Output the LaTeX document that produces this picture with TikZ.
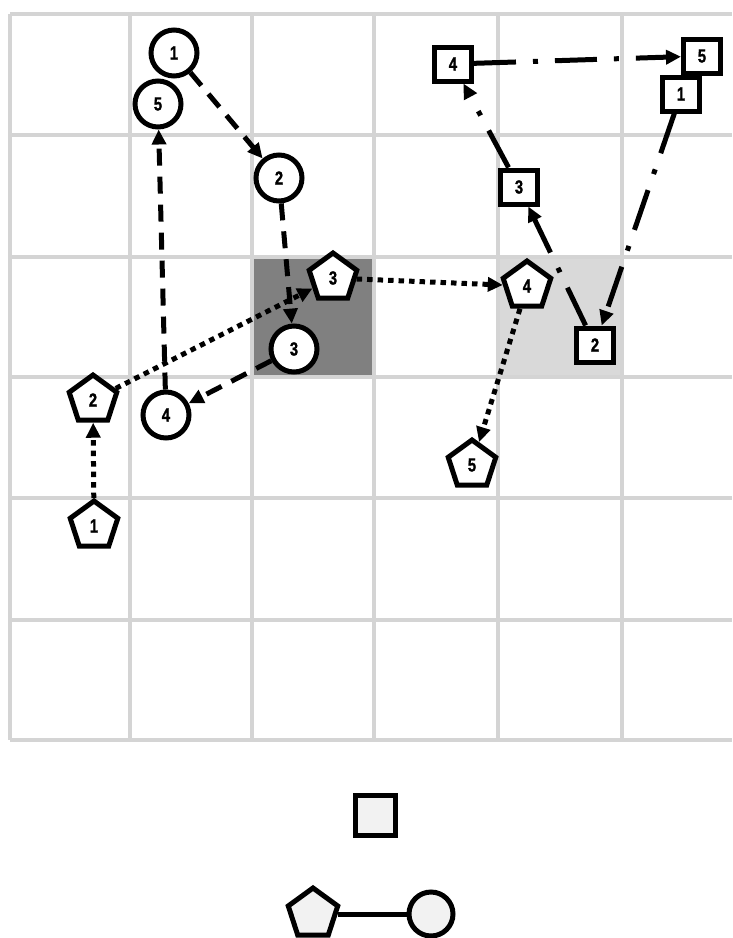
\documentclass[tikz,border=0pt]{standalone}
\usepackage{fontspec}
\setmainfont{Liberation Sans}[FakeStretch=0.78, BoldFeatures={FakeBold=1.2}]
\usetikzlibrary{arrows.meta,shapes.geometric}
\definecolor{gridc}{HTML}{D4D4D4}
\definecolor{darkcell}{HTML}{808080}
\definecolor{lightcell}{HTML}{D9D9D9}
\definecolor{legfill}{HTML}{F2F2F2}
\tikzset{
  lbl/.style={font=\bfseries\fontsize{19}{19}\selectfont},
  circ/.style={circle, draw, line width=5pt, fill=white, minimum size=46pt, inner sep=0pt, lbl},
  pent/.style={regular polygon, regular polygon sides=5, draw, line width=5pt, fill=white, minimum size=50pt, inner sep=0pt, lbl},
  sq/.style={rectangle, draw, line width=5pt, fill=white, minimum width=37pt, minimum height=34pt, inner sep=0pt, lbl},
  tip/.style={-{Triangle[length=15pt,width=14pt]}},
  cedge/.style={line width=5pt, dash pattern=on 17pt off 11pt, tip},
  pedge/.style={line width=5pt, dash pattern=on 5.5pt off 5pt, tip},
  sedge/.style={line width=5pt, dash pattern=on 42pt off 17pt on 5pt off 17pt, tip},
  gline/.style={draw=gridc, line width=3.2pt}
}
\begin{document}
\begin{tikzpicture}[x=1pt,y=-1pt]
\useasboundingbox (0,0) rectangle (732,938);
% highlighted cells
\fill[darkcell] (252,257) rectangle (374,377);
\fill[lightcell] (498,257) rectangle (622,377);
% grid
\foreach \x in {10,130,252,374,498,622} \draw[gline] (\x,14) -- (\x,740);
\foreach \y in {14,135,257,377,498,620,740} \draw[gline] (10,\y) -- (732,\y);
% circles
\node[circ] (c1) at (174,53) {1};
\node[circ] (c5) at (158,104) {5};
\node[circ] (c2) at (279,178) {2};
\node[circ] (c3) at (294,349) {3};
\node[circ] (c4) at (166,415) {4};
% pentagons
\node[pent] (p1) at (94,526) {1};
\node[pent] (p2) at (93,400) {2};
\node[pent] (p3) at (333,278) {3};
\node[pent] (p4) at (527,286) {4};
\node[pent] (p5) at (472,465) {5};
% squares
\node[sq] (s4) at (453,64) {4};
\node[sq] (s5) at (702,56) {5};
\node[sq] (s1) at (681,94) {1};
\node[sq] (s3) at (519,187) {3};
\node[sq] (s2) at (595,345) {2};
% edges
\draw[cedge] (c1) -- (c2);
\draw[cedge] (c2) -- (c3);
\draw[cedge] (c3) -- (c4);
\draw[cedge] (c4) -- (c5);
\draw[pedge] (p1) -- (p2);
\draw[pedge] (p2) -- (p3);
\draw[pedge] (p3) -- (p4);
\draw[pedge] (p4) -- (p5);
\draw[sedge] (s1) -- (s2);
\draw[sedge] (s2) -- (s3);
\draw[sedge] (s3) -- (s4);
\draw[sedge] (s4) -- (s5);
% legend
\node[sq, fill=legfill, minimum width=40pt, minimum height=40pt] (lsq) at (375,815) {};
\node[pent, fill=legfill, minimum size=52pt] (lpent) at (313,914) {};
\node[circ, fill=legfill, minimum size=44pt] (lcirc) at (431,914) {};
\draw[line width=5pt] (lpent) -- (lcirc);
\end{tikzpicture}
\end{document}
